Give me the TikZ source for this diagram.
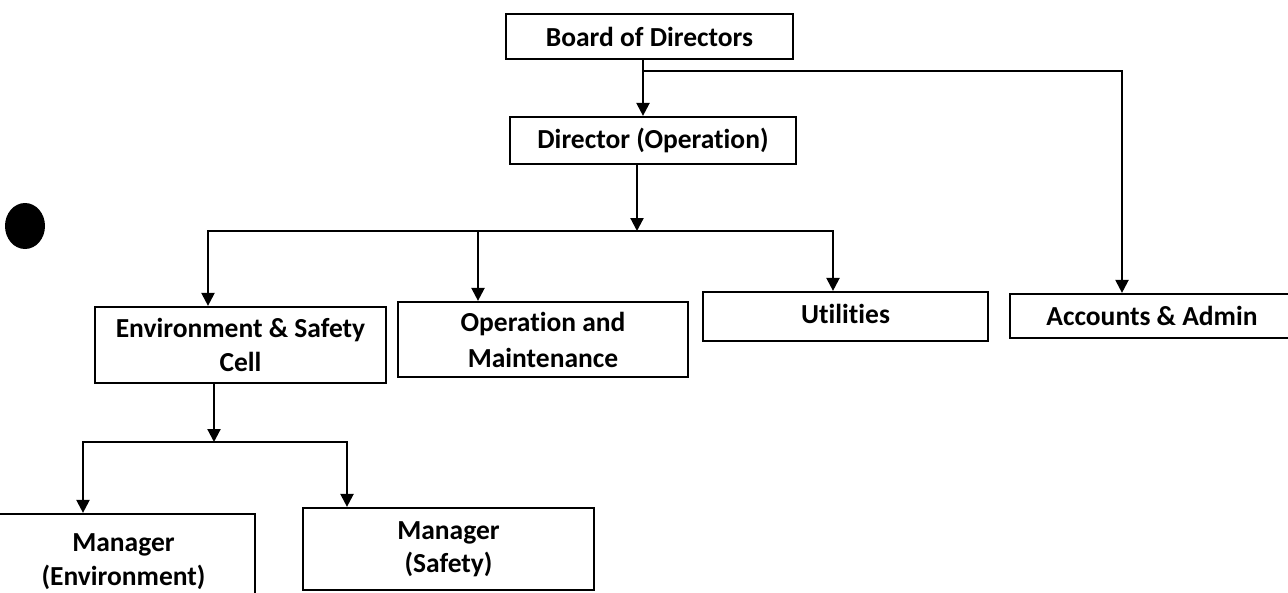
\documentclass[tikz,border=0pt]{standalone}
\usepackage{fontspec}
\setmainfont{Carlito}[Ligatures=NoCommon]
\usepackage{tikz}
\usetikzlibrary{arrows.meta}

\begin{document}
\begin{tikzpicture}[x=1pt, y=-1pt,
    box/.style={draw, line width=2.2pt, inner sep=0pt, align=center,
        font=\bfseries\fontsize{27.5}{34}\selectfont},
    link/.style={line width=2.2pt, -{Triangle[length=13pt,width=13pt]}}]
    \clip (0,0) rectangle (1288,592);
    \fill[white] (0,0) rectangle (1288,592);

    % boxes
    \node[box, minimum width=287, minimum height=45] (Board) at (649.5,36.5) {Board of Directors};
    \node[box, minimum width=286, minimum height=47] (DirOp) at (653,140.5) {Director (Operation)};
    \node[box, minimum width=291, minimum height=76] (EnvCell) at (240.5,345) {Environment \& Safety\\Cell};
    \node[box, minimum width=290, minimum height=75, font=\bfseries\fontsize{27.5}{36}\selectfont]
        (OpMaint) at (543,339.5) {Operation and\\Maintenance};
    \node[box, minimum width=285, minimum height=49] (Util) at (845.5,316.5) {\raisebox{5pt}{Utilities}};
    \node[box, minimum width=284, minimum height=44] (Accts) at (1152,316) {Accounts \& Admin};
    \node[box, minimum width=263, minimum height=96] (MgrEnv) at (123.5,562) {Manager\\(Environment)};
    \node[box, minimum width=291, minimum height=82] (MgrSafe) at (448.5,549) {\raisebox{-4pt}{\begin{tabular}{@{}c@{}}Manager\\[-1pt](Safety)\end{tabular}}};

    % bus points
    \coordinate (T1) at (643,71);
    \coordinate (T2) at (637,231);
    \coordinate (T3) at (214,442);

    % connectors
    \draw[link] ([xshift=-6.5pt]Board.south) -- ([xshift=-6.5pt]Board.south |- DirOp.north);
    \draw[link] (T1) -| ([xshift=-30pt]Accts.north);
    \draw[link] ([xshift=-16pt]DirOp.south) -- (T2);
    \draw[link] (T2) -| ([xshift=-32.5pt]EnvCell.north);
    \draw[link] (T2) -| ([xshift=-65pt]OpMaint.north);
    \draw[link] (T2) -| ([xshift=-12.5pt]Util.north);
    \draw[link] ([xshift=-26.5pt]EnvCell.south) -- (T3);
    \draw[link] (T3) -| ([xshift=-40.5pt]MgrEnv.north);
    \draw[link] (T3) -| ([xshift=-101.5pt]MgrSafe.north);

    % punch hole
    \fill (25,226) ellipse [x radius=20, y radius=23];
\end{tikzpicture}
\end{document}
